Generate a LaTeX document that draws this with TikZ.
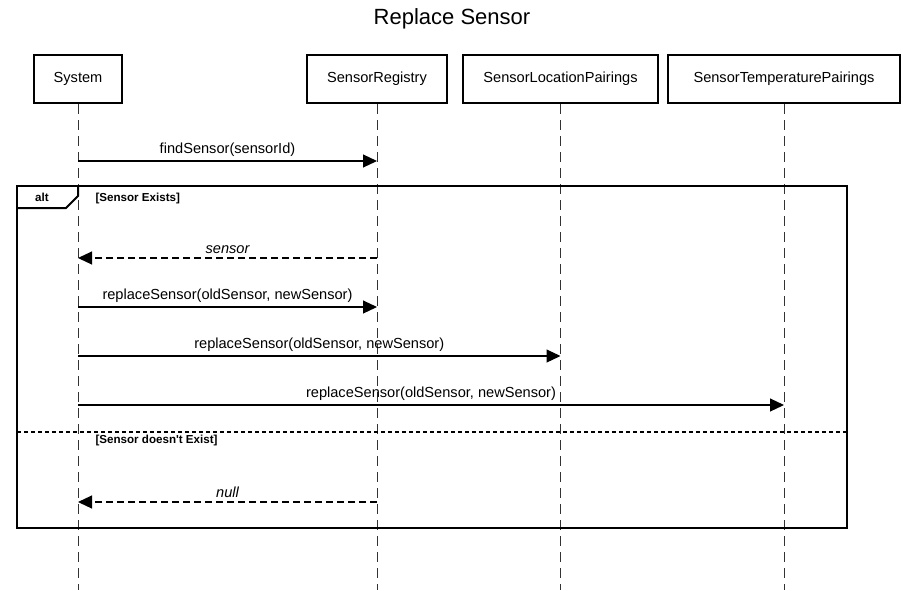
\documentclass[tikz,border=0pt]{standalone}
\usepackage{fontspec}
\setmainfont{Liberation Sans}
\usetikzlibrary{arrows.meta}

\tikzset{
  head/.style={draw, line width=2pt, minimum height=48pt, inner sep=0pt, font=\fontsize{14.6}{17}\selectfont},
  life/.style={line width=1pt, black!80, dash pattern=on 10pt off 6pt},
  msg/.style={line width=1.1pt, -{Triangle[length=14pt,width=13pt]}},
  ret/.style={msg, dash pattern=on 7pt off 4pt},
  lbl/.style={font=\fontsize{14.6}{17}\selectfont, above=0.5pt},
  guard/.style={font=\fontsize{11.6}{14}\selectfont\bfseries, anchor=west}
}

\begin{document}
\begin{tikzpicture}[x=1pt,y=-1pt]
        \useasboundingbox (0,0) rectangle (903,590);
        \node[font=\fontsize{22}{26}\selectfont] (title) at (452,19) {Replace Sensor};
        % Participants
        \node[head, minimum width=88pt] (sys) at (78,79) {System};
        \node[head, minimum width=140pt] (reg) at (377,79) {SensorRegistry};
        \node[head, minimum width=195pt] (loc) at (560.5,79) {SensorLocationPairings};
        \node[head, minimum width=232pt] (temp) at (784,79) {SensorTemperaturePairings};
        % Lifelines
        \coordinate (bottom) at (0,590);
        \foreach \p in {sys,reg,loc,temp}
            \draw[life] (\p.south) -- (\p.south |- bottom);
        % Message levels
        \coordinate (m1) at (0,161);
        \coordinate (m2) at (0,258);
        \coordinate (m3) at (0,307);
        \coordinate (m4) at (0,356);
        \coordinate (m5) at (0,405);
        \coordinate (m6) at (0,502);
        \draw[msg] (sys |- m1) -- node[lbl] {findSensor(sensorId)} (reg |- m1);
        % Alt frame
        \coordinate (altnw) at (17,186);
        \coordinate (altse) at (847,528);
        \draw[line width=2pt] (altnw) rectangle (altse);
        \draw[line width=2pt] (17,208) -- (66,208) -- (78,196) -- (78,186);
        \node[font=\fontsize{11.6}{14}\selectfont\bfseries] (alt) at (42,197) {alt};
        \node[guard] (g1) at (92,198) {[Sensor Exists]};
        \draw[ret] (reg |- m2) -- node[lbl] {\itshape sensor} (sys |- m2);
        \draw[msg] (sys |- m3) -- node[lbl] {replaceSensor(oldSensor, newSensor)} (reg |- m3);
        \draw[msg] (sys |- m4) -- node[lbl] {replaceSensor(oldSensor, newSensor)} (loc |- m4);
        \draw[msg] (sys |- m5) -- node[lbl] {replaceSensor(oldSensor, newSensor)} (temp |- m5);
        % Else branch
        \coordinate (sepw) at (17,432);
        \coordinate (sepe) at (847,432);
        \draw[line width=1.8pt, dash pattern=on 4pt off 3pt] (sepw) -- (sepe);
        \node[guard] (g2) at (92,440) {[Sensor doesn\textquotesingle t Exist]};
        \draw[ret] (reg |- m6) -- node[lbl] {\itshape null} (sys |- m6);
    \end{tikzpicture}
\end{document}
